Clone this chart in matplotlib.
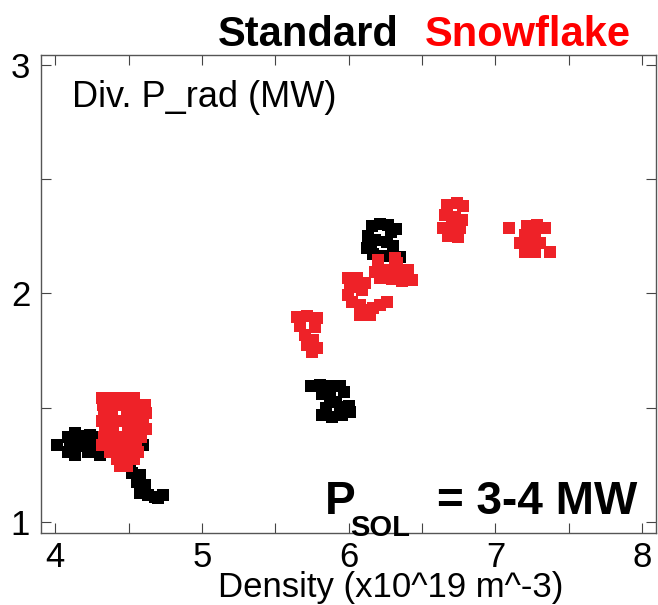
import matplotlib
matplotlib.use("Agg")
import matplotlib.pyplot as plt
from matplotlib.ticker import MultipleLocator

plt.rcParams['font.family'] = ['Liberation Sans', 'DejaVu Sans']

# Standard divertor (black)
std_x = [4.012, 4.087, 4.134, 4.189, 4.237, 4.284, 4.100, 4.155, 4.209, 4.271,
         4.134, 4.223, 4.305, 4.087,
         4.441, 4.441, 4.509, 4.523, 4.577, 4.557, 4.611, 4.577, 4.632, 4.680,
         4.734, 4.700, 4.598,
         5.743, 5.804, 5.873, 5.941, 5.968, 5.818, 5.873, 5.914, 5.845, 5.941,
         6.000, 5.818, 5.886, 5.955, 6.009,
         6.159, 6.213, 6.268, 6.322, 6.132, 6.180, 6.261, 6.302, 6.125, 6.166,
         6.234, 6.302, 6.350, 6.150, 6.290]
std_y = [1.336, 1.371, 1.389, 1.376, 1.380, 1.371, 1.327, 1.340, 1.332, 1.323,
         1.292, 1.305, 1.292, 1.305,
         1.283, 1.305, 1.248, 1.213, 1.205, 1.174, 1.161, 1.126, 1.117, 1.108,
         1.117, 1.104, 1.336,
         1.594, 1.599, 1.594, 1.594, 1.568, 1.559, 1.542, 1.524, 1.498, 1.502,
         1.507, 1.467, 1.459, 1.467, 1.481,
         2.295, 2.304, 2.300, 2.282, 2.251, 2.234, 2.225, 2.208, 2.199, 2.173,
         2.164, 2.164, 2.159, 2.215, 2.270]

# Snowflake divertor (red)
snf_x = [4.318, 4.373, 4.427, 4.482, 4.536,
         4.325, 4.393, 4.455, 4.516, 4.577, 4.611,
         4.332, 4.386, 4.489, 4.564, 4.618,
         4.318, 4.359, 4.414, 4.468, 4.536, 4.598,
         4.339, 4.393, 4.496, 4.557, 4.618,
         4.332, 4.373, 4.427, 4.475, 4.523, 4.584,
         4.318, 4.359, 4.421, 4.489, 4.550,
         4.373, 4.427, 4.509, 4.564,
         4.421, 4.475, 4.536,
         4.441, 4.489,
         5.648, 5.716, 5.784, 5.668, 5.770, 5.702, 5.757, 5.716, 5.784, 5.750,
         6.199, 6.315, 6.329,
         6.180, 6.248, 6.315, 6.384, 6.432, 6.213, 6.295, 6.364, 6.405,
         5.995, 6.057, 6.111, 6.009, 6.091,
         5.995, 6.023, 6.077, 6.111, 6.166, 6.213, 6.261, 6.077, 6.145,
         6.670, 6.739, 6.779, 6.657, 6.725, 6.772, 6.643, 6.704, 6.759, 6.677, 6.745,
         7.093, 7.216, 7.284, 7.338, 7.202, 7.270, 7.168, 7.236, 7.304, 7.202,
         7.270, 7.372]
snf_y = [1.542, 1.542, 1.542, 1.542, 1.542,
         1.511, 1.511, 1.511, 1.511, 1.511, 1.511,
         1.476, 1.476, 1.476, 1.476, 1.476,
         1.441, 1.441, 1.441, 1.441, 1.441, 1.441,
         1.406, 1.406, 1.406, 1.406, 1.406,
         1.371, 1.371, 1.371, 1.371, 1.371, 1.371,
         1.336, 1.336, 1.336, 1.336, 1.336,
         1.305, 1.305, 1.305, 1.305,
         1.275, 1.275, 1.275,
         1.244, 1.244,
         1.897, 1.901, 1.892, 1.857, 1.853, 1.818, 1.796, 1.774, 1.761, 1.743,
         2.146, 2.155, 2.133,
         2.094, 2.102, 2.094, 2.081, 2.059, 2.068, 2.064, 2.055, 2.102,
         2.068, 2.068, 2.046, 2.028, 2.015,
         1.993, 1.962, 1.949, 1.927, 1.936, 1.949, 1.962, 1.905, 1.905,
         2.387, 2.396, 2.383, 2.343, 2.334, 2.321, 2.286, 2.290, 2.286, 2.251, 2.247,
         2.286, 2.295, 2.300, 2.286, 2.256, 2.256, 2.221, 2.212, 2.221, 2.181,
         2.181, 2.181]

fig = plt.figure(figsize=(6.58, 6.05), dpi=100)
ax = fig.add_axes([0.0628, 0.1195, 0.9342, 0.7901])

ax.plot(std_x, std_y, 's', color='black', markersize=8, markeredgewidth=0)
ax.plot(snf_x, snf_y, 's', color='#ee2228', markersize=8, markeredgewidth=0)

ax.set_xlim(3.905, 8.095)
ax.set_ylim(0.952, 3.045)
ax.xaxis.set_major_locator(MultipleLocator(1))
ax.xaxis.set_minor_locator(MultipleLocator(0.5))
ax.yaxis.set_major_locator(MultipleLocator(1))
ax.yaxis.set_minor_locator(MultipleLocator(0.5))
ax.tick_params(which='both', direction='in', top=True, right=True,
               length=7, width=0.8, color='#444444')
ax.tick_params(axis='x', which='major', labelsize=25, pad=6)
ax.tick_params(axis='y', which='major', labelsize=25, pad=8)
for s in ax.spines.values():
    s.set_color('#555555')
    s.set_linewidth(1.0)

# x label sits right of centre in the original
fig.text(391 / 658, 1 - 597 / 605, 'Density (x10^19 m^-3)', fontsize=25,
         ha='center', va='baseline')

# title words
fig.text(218 / 658, 1 - 46 / 605, 'Standard', fontsize=30, fontweight='bold',
         color='black', ha='left', va='baseline')
fig.text(425 / 658, 1 - 46 / 605, 'Snowflake', fontsize=30, fontweight='bold',
         color='red', ha='left', va='baseline')

fig.text(72 / 658, 1 - 107 / 605, 'Div. P_rad (MW)', fontsize=26,
         ha='left', va='baseline')

fig.text(325 / 658, 1 - 514 / 605, 'P', fontsize=33, fontweight='bold',
         ha='left', va='baseline')
fig.text(350 / 658, 1 - 536 / 605, 'SOL', fontsize=21, fontweight='bold',
         ha='left', va='baseline')
fig.text(437 / 658, 1 - 514 / 605, '= 3-4 MW', fontsize=33, fontweight='bold',
         ha='left', va='baseline')

fig.savefig('out.png', dpi=100)
